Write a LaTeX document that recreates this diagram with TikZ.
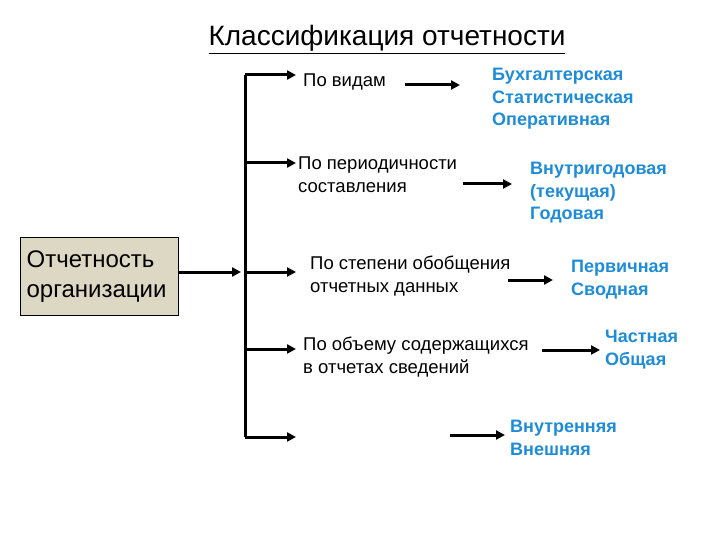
\documentclass[tikz,border=0pt]{standalone}
\usepackage{fontspec}
\setmainfont{Liberation Sans}
\usetikzlibrary{arrows.meta}
\definecolor{blu}{RGB}{30,140,215}
\begin{document}
\begin{tikzpicture}[x=1pt,y=-1pt,
  lbl/.style={anchor=north west,align=left,font=\fontsize{18.5}{23}\selectfont,inner sep=0},
  val/.style={lbl,text=blu,font=\fontsize{18}{22.5}\selectfont\bfseries},
  arr/.style={line width=3pt,-{Triangle[length=9pt,width=9pt]}}]
\useasboundingbox (0,0) rectangle (720,540);
\node[anchor=base,inner sep=1pt,font=\fontsize{28}{32}\selectfont] (t) at (387,46) {\underline{Классификация отчетности}};
\node[draw,line width=1.2pt,fill={rgb,255:red,221;green,216;blue,196},minimum width=158pt,minimum height=78pt,anchor=north west,align=left,font=\fontsize{24}{30}\selectfont,inner sep=6pt,text width=146pt] (org) at (20,237) {Отчетность\\организации};
\coordinate (top) at (245,75);
\coordinate (bot) at (245,437);
\draw[line width=3pt] (top) -- (bot);
\coordinate (join) at (241,272);
\draw[arr] (org.east |- join) -- (join);
\node[lbl] (a1) at (303,74) {По видам};
\node[lbl] (a2) at (298,157) {По периодичности\\составления};
\node[lbl] (a3) at (310,256) {По степени обобщения\\отчетных данных};
\node[lbl] (a4) at (303,337) {По объему содержащихся\\в отчетах сведений};
\foreach \y/\n in {75/b1,163/b2,272/b3,349/b4,437/b5}{
  \coordinate (\n) at (296,\y);
  \draw[arr] (245,\y) -- (\n);
}
\node[val] (v1) at (492,68) {Бухгалтерская\\Статистическая\\Оперативная};
\node[val] (v2) at (530,162) {Внутригодовая\\(текущая)\\Годовая};
\node[val] (v3) at (571,260) {Первичная\\Сводная};
\node[val] (v4) at (605,330) {Частная\\Общая};
\node[val] (v5) at (510,420) {Внутренняя\\Внешняя};
\coordinate (s1) at (405,85);\coordinate (e1) at (460,85);
\coordinate (s2) at (463,184);\coordinate (e2) at (512,184);
\coordinate (s3) at (508,280);\coordinate (e3) at (553,280);
\coordinate (s4) at (542,350);\coordinate (e4) at (600,350);
\coordinate (s5) at (450,435);\coordinate (e5) at (505,435);
\foreach \i in {1,...,5}{\draw[arr] (s\i) -- (e\i);}
\end{tikzpicture}
\end{document}
